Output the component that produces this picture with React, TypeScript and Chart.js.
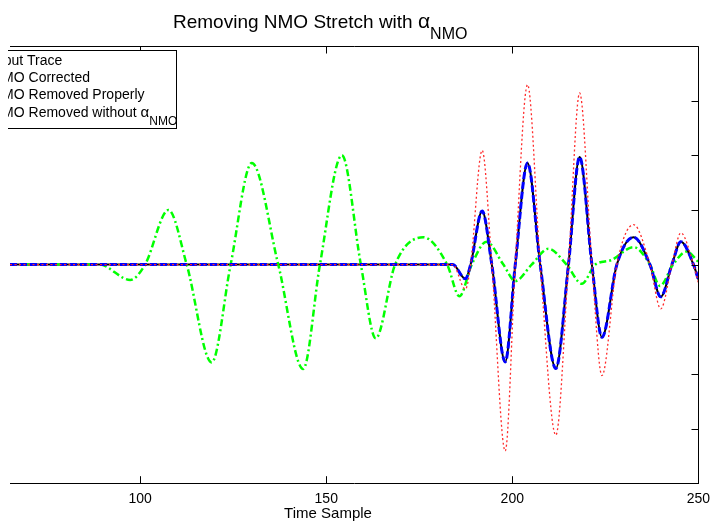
import React, { useEffect, useRef } from "react";
import { Chart, registerables } from "chart.js";

Chart.register(...registerables);

const TITLE_MAIN = "Removing NMO Stretch with ";
const TITLE_SUB = "NMO";
const X_TITLE = "Time Sample";
const X_TICKS = [100, 150, 200, 250];
const Y_TICKS = [-3, -2, -1, 0, 1, 2, 3];

const LEGEND_LABELS = ["Input Trace", "NMO Corrected", "NMO Removed Properly", "NMO Removed without "];

// Input trace (green dash-dot)
const T_INPUT = [65, 89, 97.3, 101.3, 107.6, 112.5, 119.2, 124.3, 130, 137.1, 143.8, 148.3, 154.2, 159.3, 163.3, 168.5, 176.1, 182.5, 185.8, 189.1, 193.1, 197.6, 200.8, 205.2, 209.7, 214.6, 218.7, 222.3, 226.5, 232.6, 237, 239.7, 243.2, 246.9, 250];
const V_INPUT = [0, 0, -0.28, 0, 1.0, 0, -1.79, 0, 1.86, 0, -1.91, 0, 2.0, 0, -1.35, 0, 0.5, 0, -0.58, 0, 0.42, 0, -0.3, 0, 0.29, 0, -0.35, 0, 0.08, 0.32, 0, -0.39, 0, 0.24, 0.05];

// NMO corrected (black), removed properly (blue), removed without alpha (red)
const T_NMO = [65, 184, 187.4, 188.8, 191.9, 194.5, 198.1, 200.8, 204.1, 207.5, 211.7, 215.1, 218.1, 221.4, 224.1, 228.1, 232.6, 237, 239.9, 242.9, 245.3, 248.7, 250];
const V_CORRECTED = [0, 0, -0.26, 0, 0.98, 0, -1.78, 0, 1.86, 0, -1.9, 0, 1.97, 0, -1.33, 0, 0.5, 0, -0.59, 0, 0.42, 0, -0.27];
const V_PROPER = [0, 0, -0.26, 0, 0.98, 0, -1.78, 0, 1.86, 0, -1.9, 0, 1.97, 0, -1.33, 0, 0.5, 0, -0.59, 0, 0.42, 0, -0.27];
const V_NO_ALPHA = [0, 0, -0.45, 0, 2.09, 0, -3.41, 0, 3.29, 0, -3.12, 0, 3.14, 0, -2.03, 0, 0.73, 0, -0.81, 0, 0.58, 0, -0.33];

const FONT = '"Liberation Sans", Arial, Helvetica, sans-serif';

const pts = (ts: number[], vs: number[]) => ts.map((t, i) => ({ x: t, y: vs[i] }));

const framePlugin = {
  id: "matlabFrame",
  afterDatasetsDraw(chart: any) {
    const { ctx, chartArea: a, scales } = chart;
    const xs = scales.x;
    const ys = scales.y;
    ctx.save();
    ctx.strokeStyle = "#000";
    ctx.lineWidth = 1;
    ctx.beginPath();
    const top = Math.round(a.top) + 0.5;
    const right = Math.round(a.right) + 0.5;
    ctx.moveTo(a.left, top);
    ctx.lineTo(right, top);
    ctx.lineTo(right, a.bottom);
    const tl = 7;
    X_TICKS.forEach((v) => {
      const px = Math.round(xs.getPixelForValue(v)) + 0.5;
      ctx.moveTo(px, a.bottom);
      ctx.lineTo(px, a.bottom - tl);
      ctx.moveTo(px, top);
      ctx.lineTo(px, top + tl);
    });
    Y_TICKS.forEach((v) => {
      const py = Math.round(ys.getPixelForValue(v)) + 0.5;
      ctx.moveTo(right, py);
      ctx.lineTo(right - tl, py);
    });
    ctx.stroke();

    // Legend (left part cut off like the reference)
    ctx.save();
    ctx.beginPath();
    ctx.rect(8, 0, 711, 527);
    ctx.clip();
    const lx0 = -40, lx1 = 176.5, ly0 = 50.5, ly1 = 128.5;
    ctx.fillStyle = "#fff";
    ctx.fillRect(lx0, ly0, lx1 - lx0, ly1 - ly0);
    ctx.strokeRect(lx0, ly0, lx1 - lx0, ly1 - ly0);
    ctx.fillStyle = "#000";
    ctx.textBaseline = "alphabetic";
    ctx.textAlign = "left";
    const tx = -8;
    LEGEND_LABELS.forEach((lab, i) => {
      const y = 65 + i * 17.2;
      ctx.font = "14px " + FONT;
      ctx.fillText(lab, tx, y);
      if (i === 3) {
        const w = ctx.measureText(lab).width;
        ctx.font = "15px " + FONT;
        ctx.fillText("\u03b1", tx + w, y);
        const wa = ctx.measureText("\u03b1").width;
        ctx.font = "12px " + FONT;
        ctx.fillText("NMO", tx + w + wa, y + 8);
      }
    });
    ctx.restore();

    // Title with subscript
    ctx.fillStyle = "#000";
    ctx.textBaseline = "alphabetic";
    ctx.textAlign = "left";
    ctx.font = "19px " + FONT;
    const x0 = 173;
    const by = 28;
    ctx.fillText(TITLE_MAIN, x0, by);
    const w1 = ctx.measureText(TITLE_MAIN).width;
    ctx.font = "21px " + FONT;
    ctx.fillText("\u03b1", x0 + w1, by);
    const w2 = ctx.measureText("\u03b1").width;
    ctx.font = "16px " + FONT;
    ctx.fillText(TITLE_SUB, x0 + w1 + w2, by + 11);

    // x-axis title (centred on the full, uncropped axes as in the reference)
    ctx.font = "15px " + FONT;
    ctx.textAlign = "center";
    ctx.fillText(X_TITLE, 328, 518);
    ctx.restore();
  },
};

export default function App() {
  const ref = useRef<HTMLCanvasElement | null>(null);
  useEffect(() => {
    if (!ref.current) return;
    const chart = new Chart(ref.current, {
      type: "line",
      data: {
        datasets: [
          {
            label: LEGEND_LABELS[3],
            data: pts(T_NMO, V_NO_ALPHA),
            borderColor: "#ff2a2a",
            borderWidth: 1.3,
            borderDash: [2, 2.5],
            pointRadius: 0,
            cubicInterpolationMode: "monotone",
            order: 0,
          },
          {
            label: LEGEND_LABELS[2],
            data: pts(T_NMO, V_PROPER),
            borderColor: "#0000ff",
            borderWidth: 3,
            borderDash: [7, 3],
            pointRadius: 0,
            cubicInterpolationMode: "monotone",
            order: 1,
          },
          {
            label: LEGEND_LABELS[0],
            data: pts(T_INPUT, V_INPUT),
            borderColor: "#00ff00",
            borderWidth: 2.5,
            borderDash: [7, 3, 2, 3],
            pointRadius: 0,
            cubicInterpolationMode: "monotone",
            order: 2,
          },
          {
            label: LEGEND_LABELS[1],
            data: pts(T_NMO, V_CORRECTED),
            borderColor: "#000000",
            borderWidth: 2,
            pointRadius: 0,
            cubicInterpolationMode: "monotone",
            order: 3,
          },
        ],
      },
      options: {
        responsive: false,
        animation: false,
        layout: { padding: { left: 10, right: 0, top: 46, bottom: 18 } },
        plugins: { legend: { display: false }, tooltip: { enabled: false }, title: { display: false } },
        scales: {
          x: {
            type: "linear",
            min: 65,
            max: 250,
            afterBuildTicks: (s: any) => {
              s.ticks = X_TICKS.map((v) => ({ value: v }));
            },
            grid: { display: false, tickLength: 7 },
            border: { display: true, color: "#000", width: 1 },
            ticks: { color: "#000", font: { family: FONT, size: 14 }, padding: 1, maxRotation: 0, autoSkip: false },
            title: { display: false },
          },
          y: { type: "linear", min: -4, max: 4, display: false },
        },
      },
      plugins: [framePlugin],
    } as any);
    return () => chart.destroy();
  }, []);
  return (
    <div style={{ position: "fixed", left: 0, top: 0, width: 711, height: 527 }}>
      <canvas ref={ref} width={711} height={527} style={{ display: "block" }} />
    </div>
  );
}
